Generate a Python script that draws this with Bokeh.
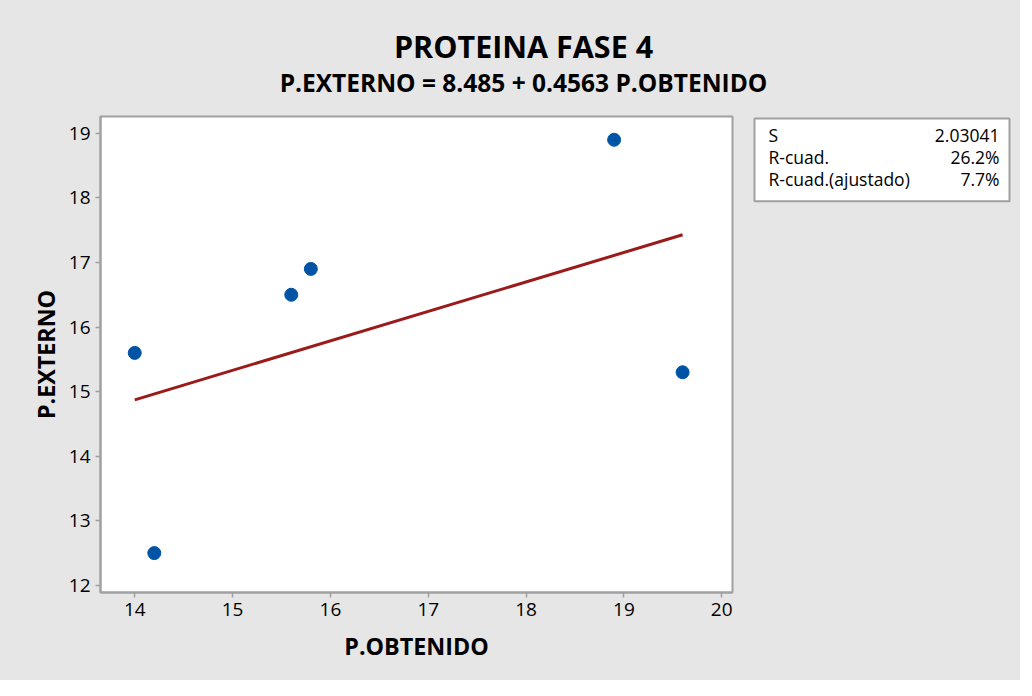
from bokeh.plotting import figure
from bokeh.layouts import column, row
from bokeh.models import FixedTicker, Range1d
from bokeh.core.properties import value
from bokeh.embed import file_html
from bokeh.resources import INLINE
import numpy as np

# Data
p_obtenido = [14.0, 14.2, 15.6, 15.8, 18.9, 19.6]
p_externo = [15.6, 12.5, 16.5, 16.9, 18.9, 15.3]
intercept = 8.485
slope = 0.4563
x_ticks = [14, 15, 16, 17, 18, 19, 20]
y_ticks = [12, 13, 14, 15, 16, 17, 18, 19]
stats_names = ["S", "R-cuad.", "R-cuad.(ajustado)"]
stats_values = ["2.03041", "26.2%", "7.7%"]
title_text = "PROTEINA FASE 4"
subtitle_text = "P.EXTERNO = 8.485 + 0.4563 P.OBTENIDO"

FONT = "Open Sans"
BG = "#e6e6e6"
AXC = "#a0a0a0"
TOTAL_W = 1020


def blank(width, height, **kw):
    f = figure(width=width, height=height, output_backend="svg", toolbar_location=None,
               x_axis_type=None, y_axis_type=None, **kw)
    f.grid.visible = False
    f.border_fill_color = BG
    f.background_fill_color = BG
    f.outline_line_color = None
    return f


# ---- title strip ----
TH = 100
pt = blank(TOTAL_W, TH, x_range=Range1d(0, TOTAL_W), y_range=Range1d(TH, 0), min_border=0)
pt.text(x=[523], y=[45], text=[title_text], text_align="center", text_baseline="middle",
        text_font=value(FONT), text_font_size="30.5px", text_font_style="bold", text_color="black")
pt.text(x=[523], y=[82], text=[subtitle_text], text_align="center", text_baseline="middle",
        text_font=value(FONT), text_font_size="24.5px", text_font_style="bold", text_color="black")

# ---- main plot ----
MAIN_W = 742
BODY_H = 580
TOP_B, BOT_B = 16, 86
p = figure(width=MAIN_W, height=BODY_H, output_backend="svg", toolbar_location=None,
           x_range=Range1d(13.65, 20.11), y_range=Range1d(11.89, 19.26),
           min_border_left=100, min_border_right=10, min_border_top=TOP_B, min_border_bottom=BOT_B)
p.background_fill_color = "white"
p.border_fill_color = BG
p.outline_line_color = AXC
p.outline_line_width = 2
p.grid.visible = False

for ax in (p.xaxis[0], p.yaxis[0]):
    ax.axis_line_color = AXC
    ax.axis_line_width = 2
    ax.major_tick_line_color = AXC
    ax.major_tick_line_width = 1.5
    ax.major_tick_in = 0
    ax.major_tick_out = 5
    ax.minor_tick_line_color = None
    ax.major_label_text_font = FONT
    ax.major_label_text_font_size = "19px"
    ax.major_label_text_color = "black"
    ax.axis_label_text_font = FONT
    ax.axis_label_text_font_size = "23.3px"
    ax.axis_label_text_font_style = "bold"
    ax.axis_label_text_color = "black"

p.xaxis.ticker = FixedTicker(ticks=x_ticks)
p.yaxis.ticker = FixedTicker(ticks=y_ticks)
p.xaxis.axis_label = "P.OBTENIDO"
p.yaxis.axis_label = "P.EXTERNO"
p.xaxis.major_label_standoff = 5
p.yaxis.major_label_standoff = 5
p.xaxis.axis_label_standoff = 11
p.yaxis.axis_label_standoff = 4

xs = np.array([min(p_obtenido), max(p_obtenido)])
ys = intercept + slope * xs
p.line(xs, ys, line_color="#9b1b1b", line_width=3)
p.scatter(p_obtenido, p_externo, size=13, fill_color="#0054a6", line_color="#0054a6")

# ---- stats box (drawn in a pixel-like frame beside the plot) ----
SW = TOTAL_W - MAIN_W
FRAME_H = BODY_H - TOP_B - BOT_B
BOX_W, BOX_H = 255, 83
PAD = 2
SL = 10
ps = blank(SW, BODY_H, x_range=Range1d(-PAD, BOX_W + PAD), y_range=Range1d(FRAME_H - PAD, -PAD),
           min_border_left=SL, min_border_right=SW - SL - (BOX_W + 2 * PAD),
           min_border_top=TOP_B - PAD, min_border_bottom=BOT_B + PAD)
ps.quad(left=[0], right=[BOX_W], top=[0], bottom=[BOX_H], fill_color="white",
        line_color=AXC, line_width=2)
row_y = [17 + 22 * i for i in range(len(stats_names))]
ps.text(x=[14] * len(stats_names), y=row_y, text=stats_names, text_align="left",
        text_baseline="middle", text_font=value(FONT), text_font_size="17.5px", text_color="black")
ps.text(x=[245] * len(stats_values), y=row_y, text=stats_values, text_align="right",
        text_baseline="middle", text_font=value(FONT), text_font_size="17.5px", text_color="black")

layout = column(pt, row(p, ps, spacing=0, styles={"background-color": BG}),
                spacing=0, styles={"background-color": BG})
open("out.html", "w").write(file_html(layout, INLINE))
